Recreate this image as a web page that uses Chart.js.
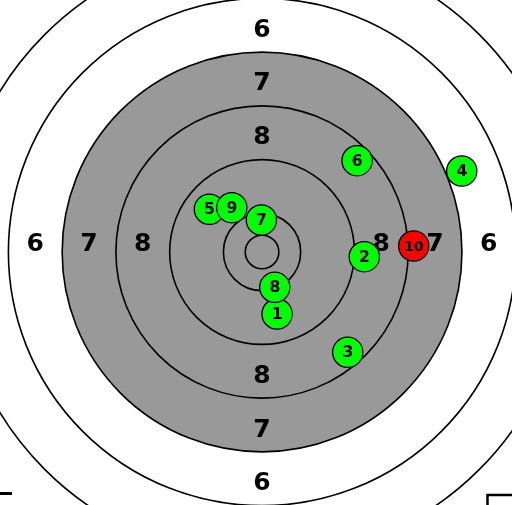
<!DOCTYPE html>
<html>
<head>
<meta charset="utf-8">
<script src="https://cdn.jsdelivr.net/npm/chart.js@4.4.0/dist/chart.umd.min.js"></script>
<style>
    html, body { margin: 0; padding: 0; background: #fff; }
    #wrap { width: 512px; height: 505px; }
</style>
</head>
<body>
<div id="wrap"><canvas id="myChart"></canvas></div>
<script>
// shots, in mm from the centre of the target, in firing order
let shotNo = [1, 2, 3, 4, 5, 6, 7, 8, 9, 10];
let shotX = [2.23, 15.22, 12.75, 29.72, -7.84, 14.14, -0.10, 1.89, -4.51, 22.57];
let shotY = [-9.23, -0.70, -14.93, 12.05, 6.35, 13.59, 4.76, -5.25, 6.59, 0.89];

// air pistol target rings (outer radius, mm)
let ringR = [2.5, 5.75, 13.75, 21.75, 29.75, 37.75, 45.75];
let ringScore = [0, 10, 9, 8, 7, 6, 5];
let labelScores = [8, 7, 6];
let blackR = 29.75;
let pelletR = 2.25;

let points = [];
for (let i = 0; i < shotNo.length; i++) {
    points.push({x: shotX[i], y: shotY[i], n: shotNo[i]});
}

function radiusPx(chart, r) {
    let sx = chart.scales.x;
    return Math.abs(sx.getPixelForValue(r) - sx.getPixelForValue(0));
}

let targetPlugin = {
    id: 'target',
    beforeDatasetsDraw: function(chart) {
        let ctx = chart.ctx;
        let cx = chart.scales.x.getPixelForValue(0);
        let cy = chart.scales.y.getPixelForValue(0);
        ctx.save();
        ctx.beginPath();
        ctx.arc(cx, cy, radiusPx(chart, blackR), 0, Math.PI * 2);
        ctx.fillStyle = '#999999';
        ctx.fill();
        ctx.strokeStyle = '#000';
        ctx.lineWidth = 1.6;
        ringR.forEach(function(r) {
            ctx.beginPath();
            ctx.arc(cx, cy, radiusPx(chart, r), 0, Math.PI * 2);
            ctx.stroke();
        });
        // score numbers
        ctx.fillStyle = '#000';
        ctx.font = 'bold 25px "DejaVu Sans"';
        ctx.textAlign = 'center';
        ctx.textBaseline = 'middle';
        labelScores.forEach(function(s) {
            let i = ringScore.indexOf(s);
            let rm = radiusPx(chart, (ringR[i] + ringR[i - 1]) / 2);
            ctx.fillText(String(s), cx, cy - rm + 5);
            ctx.fillText(String(s), cx, cy + rm + 5);
            ctx.fillText(String(s), cx - rm, cy - 7);
            ctx.fillText(String(s), cx + rm, cy - 7);
        });
        ctx.restore();
    },
    afterDatasetsDraw: function(chart) {
        let ctx = chart.ctx;
        let meta = chart.getDatasetMeta(0);
        ctx.save();
        ctx.fillStyle = '#000';
        ctx.textAlign = 'center';
        ctx.textBaseline = 'middle';
        meta.data.forEach(function(el, i) {
            let n = points[i].n;
            ctx.font = (n > 9 ? 'bold 14px' : 'bold 16px') + ' "DejaVu Sans"';
            ctx.fillText(String(n), el.x, el.y + 1);
        });
        ctx.restore();
    },
    afterDraw: function(chart) {
        // edges of the boxes below the target, cut off by the frame
        let ctx = chart.ctx;
        ctx.save();
        ctx.strokeStyle = '#000';
        ctx.lineWidth = 3;
        ctx.beginPath();
        ctx.moveTo(0, 493.5);
        ctx.lineTo(12, 493.5);
        ctx.stroke();
        ctx.lineWidth = 2.5;
        ctx.strokeRect(487.5, 495, 100, 100);
        ctx.restore();
    }
};

let ctx = document.getElementById("myChart").getContext("2d");
let config = {
    type: 'scatter',
    data: {
        datasets: [{
            data: points,
            backgroundColor: function(c) {
                return c.dataIndex === shotNo.length - 1 ? '#ff0000' : '#00ff00';
            },
            borderColor: '#000',
            borderWidth: 1.3,
            pointRadius: function(c) { return radiusPx(c.chart, pelletR); },
            pointHoverRadius: function(c) { return radiusPx(c.chart, pelletR); },
            clip: false
        }]
    },
    options: {
        responsive: true,
        maintainAspectRatio: false,
        animation: false,
        layout: { padding: 0 },
        plugins: {
            legend: { display: false },
            tooltip: { enabled: false }
        },
        scales: {
            x: { type: 'linear', display: false, min: -39.0, max: 37.2 },
            y: { type: 'linear', display: false, min: -37.65, max: 37.5 }
        }
    },
    plugins: [targetPlugin]
};
window.myTarget = new Chart(ctx, config);
</script>
</body>
</html>
